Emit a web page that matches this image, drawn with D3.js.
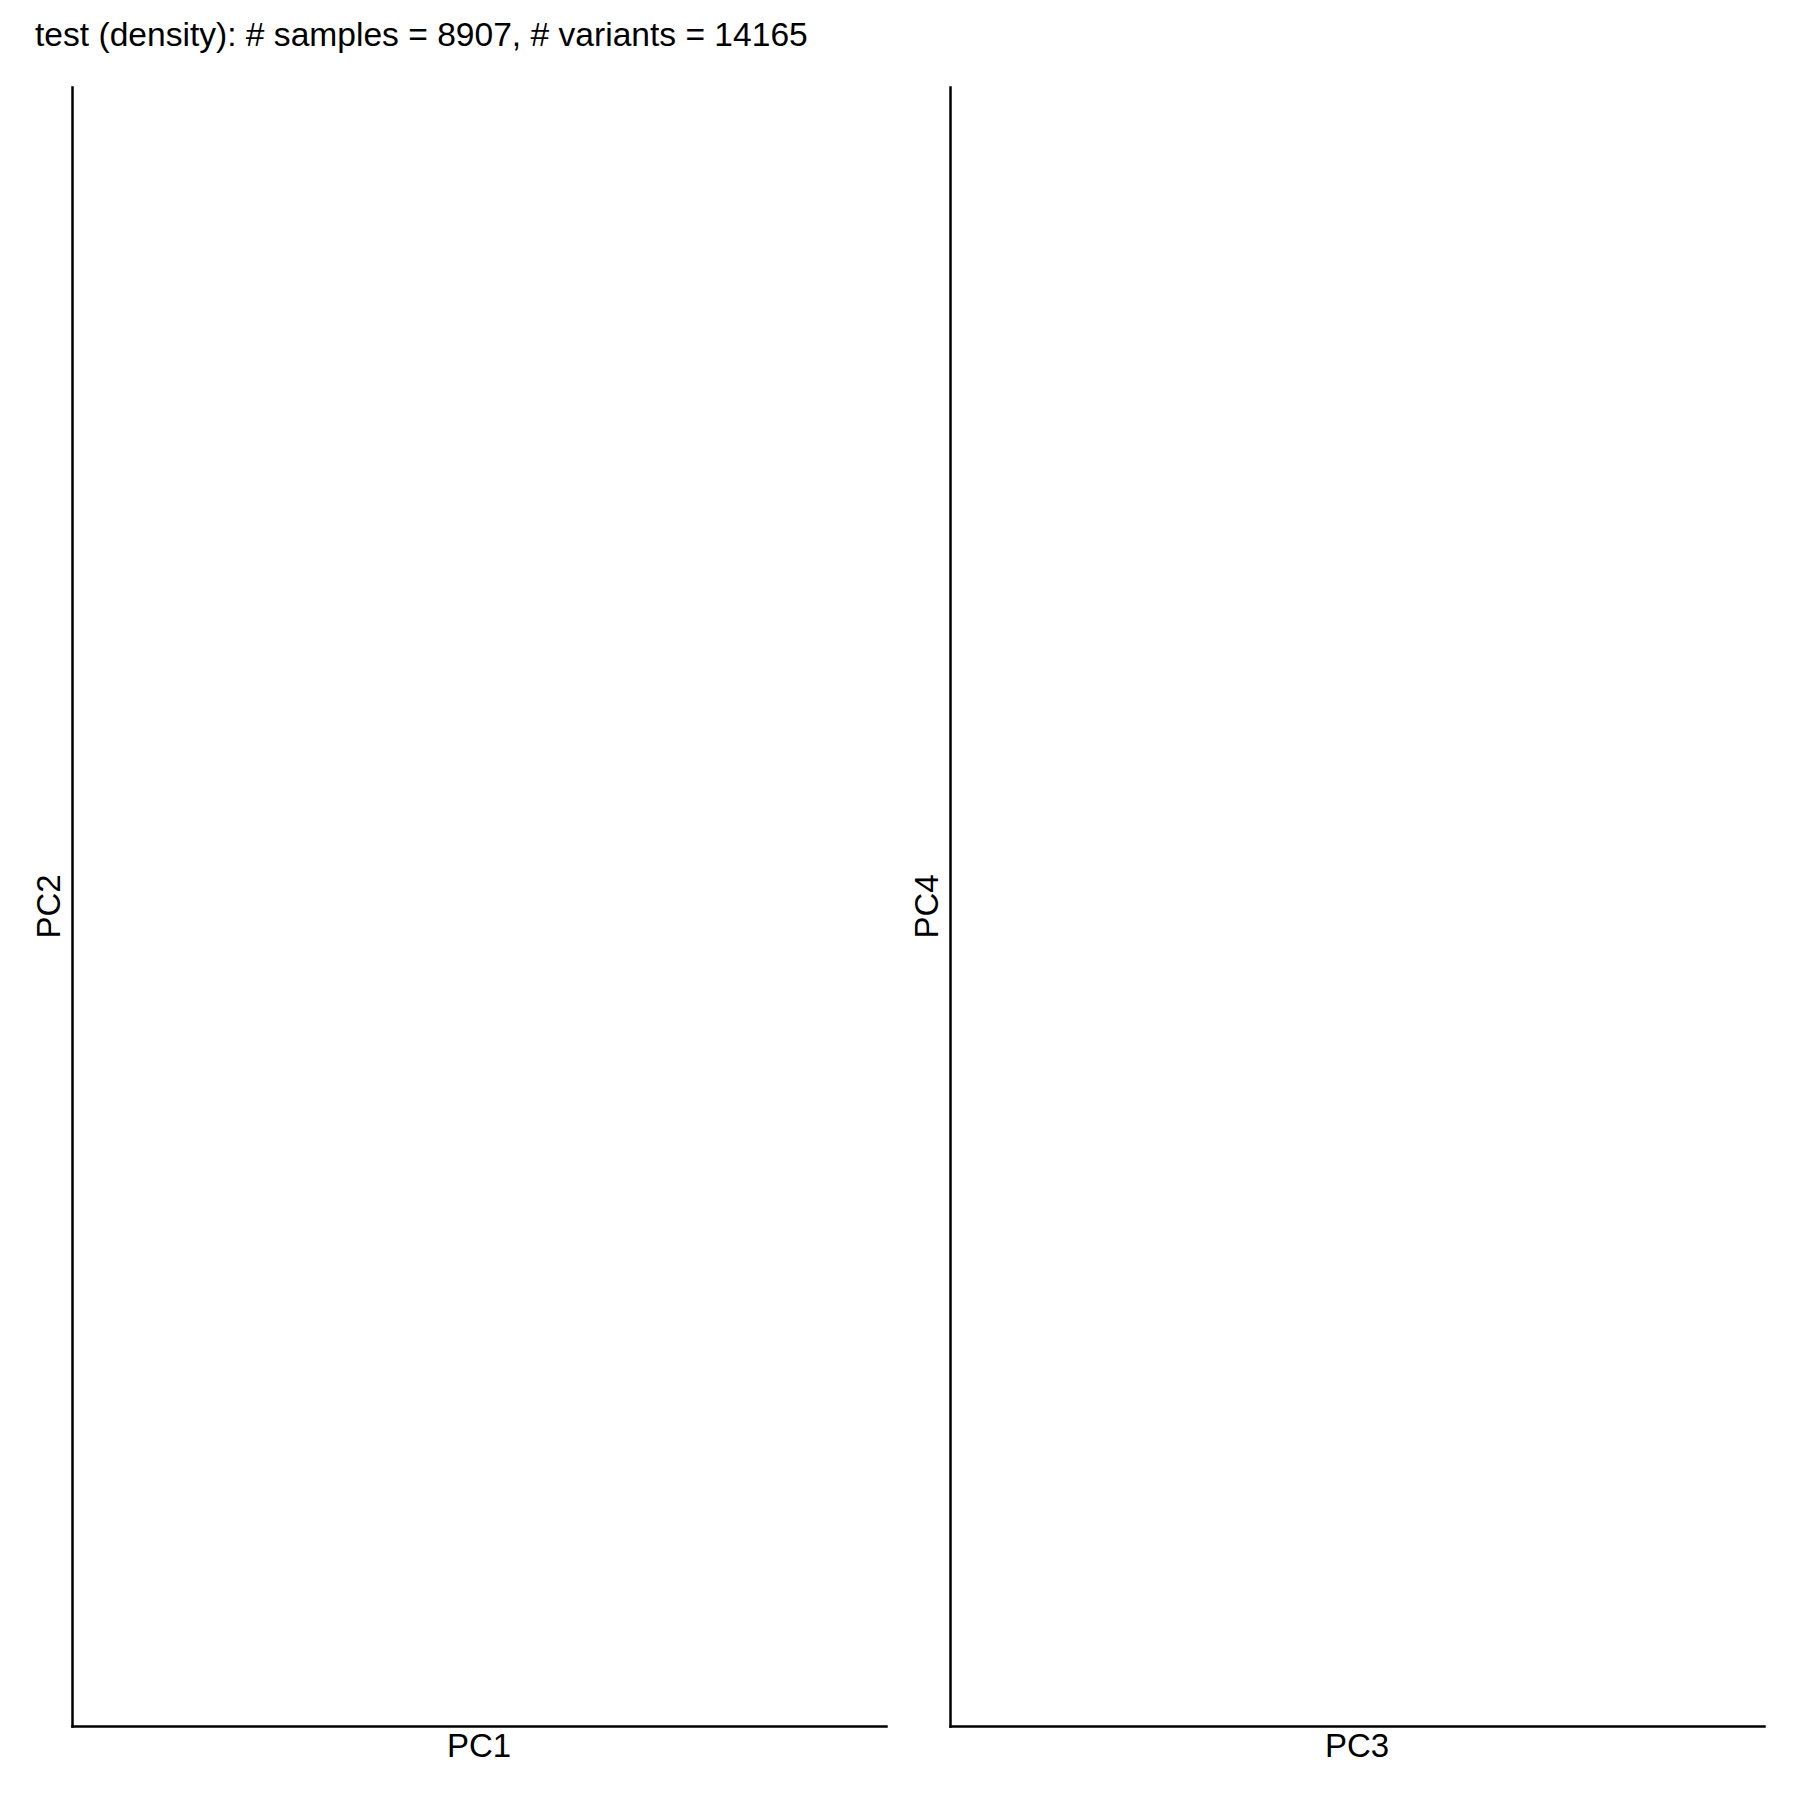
<!DOCTYPE html>
<html>
<head>
<meta charset="utf-8">
<script src="https://cdn.jsdelivr.net/npm/d3@7"></script>
<style>
  html, body { margin: 0; padding: 0; background: #fff; }
  text { font-family: "Liberation Sans", Arial, sans-serif; fill: #000; }
</style>
</head>
<body>
<script>
// Data (density panels are empty in the reference)
const titleText = "test (density): # samples = 8907, # variants = 14165";
const xLabels = ["PC1", "PC3"];
const yLabels = ["PC2", "PC4"];
const densityPoints = [[], []];

(function () {
const W = 1800, H = 1800;
const svg = d3.select("body").append("svg")
  .attr("width", W).attr("height", H)
  .style("background", "#fff");

svg.append("text")
  .attr("x", 35)
  .attr("y", 46)
  .style("font-size", "33.6px")
  .text(titleText);

const panelLeft = [72, 950];
const panelW = 814;
const plotTop = 87, plotBottom = 1726;

xLabels.forEach((xl, i) => {
  const x0 = panelLeft[i];
  const x = d3.scaleLinear().domain([0, 1]).range([x0, x0 + panelW]);
  const y = d3.scaleLinear().domain([0, 1]).range([plotBottom, plotTop]);
  const g = svg.append("g");

  g.selectAll("circle").data(densityPoints[i]).join("circle")
    .attr("cx", d => x(d[0])).attr("cy", d => y(d[1])).attr("r", 1);

  g.append("g").attr("transform", `translate(0,${plotBottom})`)
    .call(d3.axisBottom(x).tickValues([]).tickSizeOuter(0));
  g.append("g").attr("transform", `translate(${x0},0)`)
    .call(d3.axisLeft(y).tickValues([]).tickSizeOuter(0));
  g.selectAll(".domain").attr("stroke", "#000").attr("stroke-width", 2.5)
    .attr("stroke-linecap", "square");

  g.append("text")
    .attr("x", x0 + panelW / 2)
    .attr("y", 1757)
    .attr("text-anchor", "middle")
    .style("font-size", "33px")
    .text(xl);

  g.append("text")
    .attr("transform", `translate(${x0 - 12},${(plotTop + plotBottom) / 2}) rotate(-90)`)
    .attr("text-anchor", "middle")
    .style("font-size", "33px")
    .text(yLabels[i]);
});
})();
</script>
</body>
</html>
